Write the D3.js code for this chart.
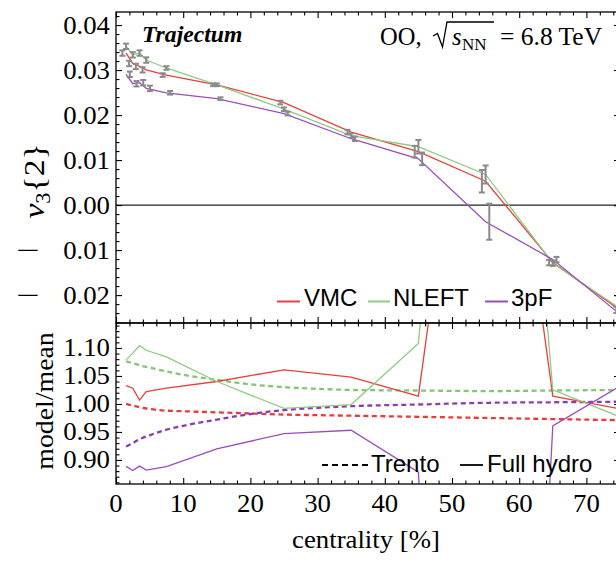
<!DOCTYPE html>
<html>
<head>
<meta charset="utf-8">
<script src="https://cdn.jsdelivr.net/npm/d3@7"></script>
<style>
  body { margin: 0; background: #fff; }
  svg { display: block; }
</style>
</head>
<body>
<svg id="chart" width="616" height="563"></svg>
<script>
// ---- data -------------------------------------------------------------
// centrality bin centres [%]
const centrality = [1.5, 2.5, 3.5, 4.5, 7.5, 15, 25, 35, 45, 55, 65, 75];

// v3{2} from full hydro (Trajectum), one series per nuclear structure model
const v3VMC    = [0.03378, 0.03146, 0.03081, 0.03005, 0.02889, 0.02673, 0.02278, 0.01621, 0.01186, 0.0053, -0.01278, -0.02329];
const v3NLEFT  = [0.03528, 0.03338, 0.03378, 0.03222, 0.03046, 0.02673, 0.02130, 0.01545, 0.01296, 0.0068, -0.01292, -0.02296];
const v3ThreePF = [0.02906, 0.02696, 0.02720, 0.02593, 0.02495, 0.02364, 0.02033, 0.01474, 0.01027, -0.0037, -0.01211, -0.02425];

// statistical uncertainties (half widths)
const errVMC    = [0.0006, 0.0006, 0.0006, 0.0006, 0.0004, 0.0003, 0.0004, 0.0005, 0.0013, 0.0025, 0.0006, 0.0007];
const errNLEFT  = [0.0006, 0.0006, 0.0006, 0.0006, 0.0004, 0.0003, 0.0004, 0.0005, 0.0015, 0.0020, 0.0006, 0.0007];
const errThreePF = [0.0006, 0.0006, 0.0006, 0.0006, 0.0004, 0.0003, 0.0004, 0.0005, 0.0014, 0.0040, 0.0006, 0.0007];

// Trento (initial state estimator) model/mean ratios
const trentoCentrality = [1.5, 2.5, 3.5, 5, 7.5, 10, 15, 20, 25, 30, 35, 45, 55, 65, 75];
const trentoVMC    = [1.000, 0.997, 0.994, 0.991, 0.988, 0.987, 0.985, 0.983, 0.981, 0.980, 0.979, 0.977, 0.975, 0.973, 0.971];
const trentoNLEFT  = [1.076, 1.073, 1.069, 1.065, 1.058, 1.052, 1.043, 1.035, 1.030, 1.027, 1.025, 1.024, 1.023, 1.024, 1.025];
const trentoThreePF = [0.924, 0.930, 0.937, 0.944, 0.954, 0.961, 0.972, 0.982, 0.989, 0.993, 0.996, 0.999, 1.002, 1.003, 1.004];

const xTicks = [0, 10, 20, 30, 40, 50, 60, 70];
const v3Ticks = [-0.02, -0.01, 0.00, 0.01, 0.02, 0.03, 0.04];
const ratioTicks = [0.90, 0.95, 1.00, 1.05, 1.10];

const modelNames = ["VMC", "NLEFT", "3pF"];
const colors = { VMC: "#e8403c", NLEFT: "#8fcb80", "3pF": "#9b4dbd" };
const dashColors = { VMC: "#e63c3c", NLEFT: "#85c576", "3pF": "#8a3db0" };

// ---- layout -------------------------------------------------------------
const svg = d3.select("#chart");
const left = 116, right = 620, top1 = 12, split = 323, bottom2 = 484;

const x = d3.scaleLinear().domain([0, 75]).range([left, right]);
const yTop = d3.scaleLinear().domain([-0.0262, 0.0429]).range([split, top1]);
const yBot = d3.scaleLinear().domain([0.857, 1.1446]).range([bottom2, split]);

const serif = "'Liberation Serif', 'Times New Roman', serif";
const sans = "'Liberation Sans', Arial, sans-serif";

function label(parent, px, py, str, o = {}) {
  const t = parent.append("text")
    .attr("transform", `translate(${px},${py}) rotate(${o.rotate || 0}) scale(${o.sx || 1.05},1)`)
    .attr("text-anchor", o.anchor || "start")
    .attr("fill", "#000")
    .style("font-family", o.family || serif)
    .style("font-size", (o.size || 25.5) + "px");
  if (o.italic) t.style("font-style", "italic");
  if (o.bold) t.style("font-weight", "bold");
  if (str !== null) t.text(str);
  return t;
}

// clip paths for each panel
const defs = svg.append("defs");
defs.append("clipPath").attr("id", "clipTop").append("rect")
  .attr("x", left).attr("y", top1).attr("width", right - left).attr("height", split - top1);
defs.append("clipPath").attr("id", "clipBot").append("rect")
  .attr("x", left).attr("y", split).attr("width", right - left).attr("height", bottom2 - split);

// ---- top panel: v3{2} ---------------------------------------------------
const gTop = svg.append("g").attr("clip-path", "url(#clipTop)");

gTop.append("line")
  .attr("x1", left).attr("x2", right)
  .attr("y1", yTop(0)).attr("y2", yTop(0))
  .attr("stroke", "#222").attr("stroke-width", 1.3);

const series = [
  { name: "VMC", v: v3VMC, e: errVMC, off: -0.55 },
  { name: "NLEFT", v: v3NLEFT, e: errNLEFT, off: 0 },
  { name: "3pF", v: v3ThreePF, e: errThreePF, off: 0.55 }
];

const lineTop = d3.line().x(d => x(d[0])).y(d => yTop(d[1]));
series.forEach(s => {
  gTop.append("path")
    .datum(centrality.map((c, i) => [c, s.v[i]]))
    .attr("d", lineTop)
    .attr("fill", "none")
    .attr("stroke", colors[s.name])
    .attr("stroke-width", 1.3);
});

// error bars, staggered horizontally per model
series.forEach(s => {
  const g = gTop.append("g").attr("stroke", "#8a8a8a").attr("stroke-width", 2).attr("fill", "none");
  centrality.forEach((c, i) => {
    const cx = x(c + s.off), y1 = yTop(s.v[i] + s.e[i]), y2 = yTop(s.v[i] - s.e[i]);
    g.append("line").attr("x1", cx).attr("x2", cx).attr("y1", y1).attr("y2", y2);
    g.append("line").attr("x1", cx - 3).attr("x2", cx + 3).attr("y1", y1).attr("y2", y1);
    g.append("line").attr("x1", cx - 3).attr("x2", cx + 3).attr("y1", y2).attr("y2", y2);
  });
});

// ---- bottom panel: model / mean -----------------------------------------
const gBot = svg.append("g").attr("clip-path", "url(#clipBot)");
const lineBot = d3.line().x(d => x(d[0])).y(d => yBot(d[1]));
const lineSmooth = d3.line().x(d => x(d[0])).y(d => yBot(d[1])).curve(d3.curveMonotoneX);

const trento = { VMC: trentoVMC, NLEFT: trentoNLEFT, "3pF": trentoThreePF };
modelNames.forEach(n => {
  gBot.append("path")
    .datum(trentoCentrality.map((c, i) => [c, trento[n][i]]))
    .attr("d", lineSmooth)
    .attr("fill", "none")
    .attr("stroke", dashColors[n])
    .attr("stroke-width", 2.3)
    .attr("stroke-dasharray", "5,3.5");
});

const meanV3 = centrality.map((c, i) => (v3VMC[i] + v3NLEFT[i] + v3ThreePF[i]) / 3);
series.forEach(s => {
  gBot.append("path")
    .datum(centrality.map((c, i) => [c, s.v[i] / meanV3[i]]))
    .attr("d", lineBot)
    .attr("fill", "none")
    .attr("stroke", colors[s.name])
    .attr("stroke-width", 1.3);
});

// ---- frames and ticks ---------------------------------------------------
function tickGroup(axisGen, tx, ty) {
  const g = svg.append("g").attr("transform", `translate(${tx},${ty})`).call(axisGen);
  g.select(".domain").remove();
  g.selectAll("line").attr("stroke", "#000").attr("stroke-width", 1.1);
  g.selectAll("text").remove();
  return g;
}
const xMinor = d3.range(0, 76, 2).filter(v => v % 10 !== 0);
const topMinor = d3.range(-26, 43, 2).map(v => v / 1000).filter(v => Math.round(v * 1000) % 10 !== 0);
const botMinor = d3.range(86, 115, 1).map(v => v / 100).filter(v => Math.round(v * 100) % 5 !== 0);

const major = 6, minor = 3.5;
// x ticks on every horizontal frame edge, pointing into the panels
[[top1, d3.axisTop, -1], [split, d3.axisTop, 1], [split, d3.axisBottom, 1], [bottom2, d3.axisBottom, -1]].forEach(([yy, gen, dir]) => {
  tickGroup(gen(x).tickValues(xTicks).tickSize(dir * major).tickFormat(""), 0, yy);
  tickGroup(gen(x).tickValues(xMinor).tickSize(dir * minor).tickFormat(""), 0, yy);
});
// y ticks, left and right
tickGroup(d3.axisLeft(yTop).tickValues(v3Ticks).tickSize(-major).tickFormat(""), left, 0);
tickGroup(d3.axisLeft(yTop).tickValues(topMinor).tickSize(-minor).tickFormat(""), left, 0);
tickGroup(d3.axisRight(yTop).tickValues(v3Ticks).tickSize(-major).tickFormat(""), right, 0);
tickGroup(d3.axisRight(yTop).tickValues(topMinor).tickSize(-minor).tickFormat(""), right, 0);
tickGroup(d3.axisLeft(yBot).tickValues(ratioTicks).tickSize(-major).tickFormat(""), left, 0);
tickGroup(d3.axisLeft(yBot).tickValues(botMinor).tickSize(-minor).tickFormat(""), left, 0);
tickGroup(d3.axisRight(yBot).tickValues(ratioTicks).tickSize(-major).tickFormat(""), right, 0);
tickGroup(d3.axisRight(yBot).tickValues(botMinor).tickSize(-minor).tickFormat(""), right, 0);

svg.append("rect").attr("x", left).attr("y", top1).attr("width", right - left).attr("height", split - top1)
  .attr("fill", "none").attr("stroke", "#000").attr("stroke-width", 1.3);
svg.append("rect").attr("x", left).attr("y", split).attr("width", right - left).attr("height", bottom2 - split)
  .attr("fill", "none").attr("stroke", "#000").attr("stroke-width", 1.3);

// ---- tick labels ---------------------------------------------------------
const fmt2 = d3.format(".2f");
v3Ticks.forEach(v => {
  const yy = yTop(v) + 8.5;
  label(svg, 110, yy, fmt2(Math.abs(v)), { anchor: "end" });
  // wide minus sign set apart from the digits
  if (v < 0) label(svg, 40, yy, "\u2212", { anchor: "end", sx: 1.6, size: 26 });
});
ratioTicks.forEach(v => label(svg, 110, yBot(v) + 8.5, fmt2(v), { anchor: "end" }));
xTicks.forEach(v => label(svg, x(v), 511.5, String(v), { anchor: "middle" }));

// ---- axis titles ---------------------------------------------------------
const yt = label(svg, 44, 181, null, { anchor: "middle", rotate: -90, size: 30, sx: 1.12 });
yt.append("tspan").style("font-style", "italic").text("v");
yt.append("tspan").attr("dy", 6).style("font-size", "20px").text("3");
yt.append("tspan").attr("dy", -6).text("{2}");

label(svg, 53, 401, "model/mean", { anchor: "middle", rotate: -90, size: 26, sx: 1.07 });
label(svg, 366, 548, "centrality [%]", { anchor: "middle", size: 26, sx: 1.03 });

// ---- annotations ---------------------------------------------------------
label(svg, 142, 42, "Trajectum", { size: 23, sx: 1.03, italic: true, bold: true });

label(svg, 380, 45, "OO,", { size: 24.5, sx: 1.0 });
svg.append("path")
  .attr("d", "M433,36 L437.5,33.5 L442.5,47 L447,22 L494,22")
  .attr("fill", "none").attr("stroke", "#000").attr("stroke-width", 1.3);
label(svg, 452, 45, "s", { size: 24.5, sx: 1.0, italic: true });
label(svg, 462, 50, "NN", { size: 17, sx: 1.0 });
label(svg, 500, 45, "= 6.8 TeV", { size: 25.5, sx: 1.0 });

// ---- legends ---------------------------------------------------------------
const legendTop = [
  { name: "VMC", x1: 277, x2: 300, tx: 304 },
  { name: "NLEFT", x1: 368, x2: 390, tx: 393 },
  { name: "3pF", x1: 485, x2: 508, tx: 511 }
];
legendTop.forEach(d => {
  svg.append("line").attr("x1", d.x1).attr("x2", d.x2).attr("y1", 301.5).attr("y2", 301.5)
    .attr("stroke", colors[d.name]).attr("stroke-width", 2);
  label(svg, d.tx, 306, d.name, { family: sans, size: 24, sx: 1 });
});

svg.append("line").attr("x1", 322).attr("x2", 368).attr("y1", 465).attr("y2", 465)
  .attr("stroke", "#000").attr("stroke-width", 1.8).attr("stroke-dasharray", "6,4");
label(svg, 371, 472, "Trento", { family: sans, size: 24, sx: 1 });
svg.append("line").attr("x1", 460).attr("x2", 483).attr("y1", 465).attr("y2", 465)
  .attr("stroke", "#000").attr("stroke-width", 1.8);
label(svg, 487, 472, "Full hydro", { family: sans, size: 24, sx: 1 });
</script>
</body>
</html>
